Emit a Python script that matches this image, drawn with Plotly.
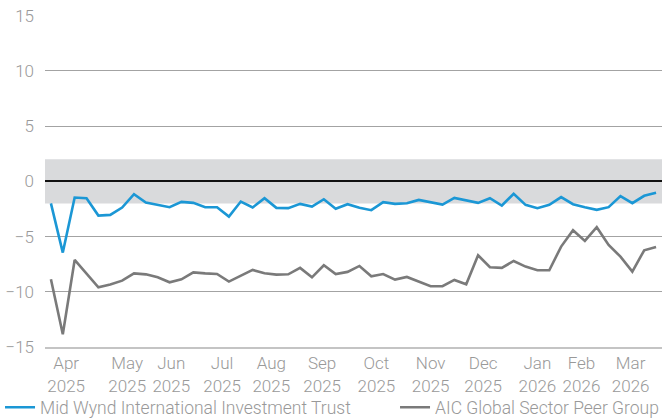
import pandas as pd
import plotly.graph_objects as go

# Weekly observations (Fridays) from 4 Apr 2025 to 27 Mar 2026
dates = pd.date_range("2025-04-04", periods=52, freq="7D")

mid_wynd = [
    -2.0, -6.45, -1.47, -1.53, -3.1, -3.04, -2.37, -1.16, -1.92, -2.16,
    -2.34, -1.86, -1.95, -2.34, -2.34, -3.19, -1.83, -2.37, -1.53, -2.4,
    -2.43, -2.04, -2.28, -1.62, -2.49, -2.07, -2.4, -2.61, -1.89, -2.04,
    -1.98, -1.68, -1.92, -2.1, -1.5, -1.71, -1.95, -1.53, -2.19, -1.13,
    -2.13, -2.43, -2.13, -1.43, -2.07, -2.34, -2.58, -2.34, -1.34, -1.98,
    -1.31, -1.04,
]

aic_peer = [
    -8.87, -13.85, -7.12, -8.36, -9.6, -9.35, -8.99, -8.33, -8.42, -8.69,
    -9.14, -8.87, -8.24, -8.33, -8.39, -9.08, -8.54, -8.02, -8.33, -8.45,
    -8.42, -7.84, -8.69, -7.6, -8.39, -8.2, -7.66, -8.6, -8.39, -8.9,
    -8.66, -9.11, -9.5, -9.5, -8.93, -9.32, -6.69, -7.78, -7.84, -7.21,
    -7.72, -8.05, -8.05, -5.91, -4.43, -5.39, -4.15, -5.76, -6.82, -8.17,
    -6.24, -5.94,
]

tick_dates = [
    "2025-04-13", "2025-05-19", "2025-06-14", "2025-07-14", "2025-08-12",
    "2025-09-11", "2025-10-13", "2025-11-14", "2025-12-15", "2026-01-16",
    "2026-02-11", "2026-03-12",
]
tick_labels = [
    "Apr<br>2025", "May<br>2025", "Jun<br>2025", "Jul<br>2025", "Aug<br>2025",
    "Sep<br>2025", "Oct<br>2025", "Nov<br>2025", "Dec<br>2025", "Jan<br>2026",
    "Feb<br>2026", "Mar<br>2026",
]
y_ticks = [-15, -10, -5, 0, 5, 10, 15]
band_low, band_high = -2, 2

FONT = "Roboto, 'Liberation Sans', Arial, sans-serif"
TXT = "#999999"

fig = go.Figure()
fig.add_trace(go.Scatter(
    x=dates, y=mid_wynd, mode="lines", name="Mid Wynd International Investment Trust",
    line=dict(color="#1b97d5", width=2.6), legend="legend",
))
fig.add_trace(go.Scatter(
    x=dates, y=aic_peer, mode="lines", name="AIC Global Sector Peer Group",
    line=dict(color="#7a7a7a", width=2.6), legend="legend2",
))

fig.add_shape(type="rect", xref="paper", yref="y", x0=0, x1=1, y0=band_low, y1=band_high,
              fillcolor="#d9dadc", line=dict(width=0), layer="below")

leg_common = dict(orientation="h", xanchor="left", yanchor="middle", y=-0.182,
                  font=dict(size=17.5, color=TXT, weight=300), itemwidth=30,
                  bgcolor="rgba(0,0,0,0)")

fig.update_layout(
    width=667, height=419,
    margin=dict(l=45, r=5, t=15, b=72, autoexpand=False),
    paper_bgcolor="white", plot_bgcolor="white",
    font=dict(family=FONT, size=17, color=TXT, weight=300),
    showlegend=True,
    legend=dict(x=-0.0729, **leg_common),
    legend2=dict(x=0.5673, **leg_common),
    xaxis=dict(
        type="date", range=["2025-03-31 12:00", "2026-03-30 12:00"],
        tickmode="array", tickvals=tick_dates, ticktext=tick_labels,
        showgrid=False, zeroline=False, ticks="", automargin=False,
        showline=True, linecolor="#c4c4c4", linewidth=2,
        tickfont=dict(size=17, color=TXT, weight=300),
    ),
    yaxis=dict(
        range=[-15, 15.06], tickmode="array", tickvals=y_ticks,
        showgrid=True, gridcolor="#a3a3a3", gridwidth=1,
        zeroline=True, zerolinecolor="#111111", zerolinewidth=1.6,
        ticks="", ticklabelstandoff=10, automargin=False,
        tickfont=dict(size=17, color=TXT, weight=300),
    ),
)

fig.write_html(
    "out.html",
    config={"displayModeBar": False},
    post_script="document.body.style.margin='0';document.body.style.padding='0';document.body.style.overflow='hidden';",
)
